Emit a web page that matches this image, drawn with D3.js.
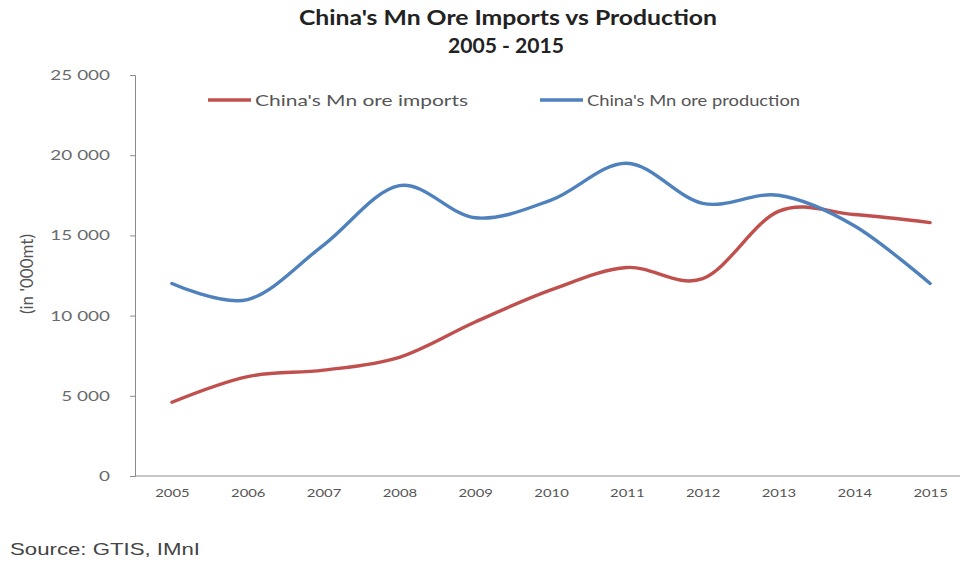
<!DOCTYPE html>
<html>
<head>
<meta charset="utf-8">
<script src="https://cdn.jsdelivr.net/npm/d3@7"></script>
<style>
  html, body { margin: 0; padding: 0; background: #fff; }
  svg { display: block; }
</style>
</head>
<body>
<svg id="chart" width="963" height="564"></svg>
<script>
// Years on the horizontal axis
const years = ["2005", "2006", "2007", "2008", "2009", "2010", "2011", "2012", "2013", "2014", "2015"];
// China's manganese ore imports, '000 mt
const imports = [4600, 6200, 6600, 7400, 9600, 11600, 13000, 12300, 16500, 16300, 15800];
// China's manganese ore production, '000 mt
const production = [12000, 11000, 14400, 18100, 16100, 17200, 19500, 17000, 17500, 15600, 12000];
// Value-axis ticks
const yTicks = [0, 5000, 10000, 15000, 20000, 25000];

const seriesNames = ["China's Mn ore imports", "China's Mn ore production"];
const seriesColors = ["#c0504d", "#4f81bd"];

const svg = d3.select("#chart");
const font = "Lato, 'Open Sans', sans-serif";

// Widen text horizontally by a factor, keeping its height
function widen(sel, k) {
  sel.each(function () {
    const w = this.getComputedTextLength();
    d3.select(this).attr("textLength", w * k).attr("lengthAdjust", "spacingAndGlyphs");
  });
}

const x = d3.scalePoint().domain(years).range([134, 968]).padding(0.5);
const y = d3.scaleLinear().domain([0, 25000]).range([476, 75]);

// Title
const t1 = svg.append("text").attr("x", 508).attr("y", 25).attr("text-anchor", "middle")
  .attr("font-family", font).attr("font-weight", "bold").attr("font-size", 21)
  .attr("fill", "#222").text("China's Mn Ore Imports vs Production");
const t2 = svg.append("text").attr("x", 506).attr("y", 53).attr("text-anchor", "middle")
  .attr("font-family", font).attr("font-weight", "bold").attr("font-size", 21)
  .attr("fill", "#222").text("2005 - 2015");
t1.attr("textLength", 418).attr("lengthAdjust", "spacingAndGlyphs");
t2.attr("textLength", 116).attr("lengthAdjust", "spacingAndGlyphs");

// Y axis
const fmt = v => d3.format(",")(v).replace(/,/g, " ");
const yAxis = svg.append("g").attr("transform", "translate(135,0)")
  .call(d3.axisLeft(y).tickValues(yTicks).tickFormat(fmt).tickSize(5).tickPadding(20));
yAxis.select(".domain").attr("stroke", "#8c8c8c");
yAxis.selectAll(".tick line").attr("stroke", "#8c8c8c");
yAxis.selectAll("text").attr("font-family", font).attr("font-size", 14).attr("fill", "#6a6a6a");
widen(yAxis.selectAll("text"), 1.35);

// X axis
const xAxis = svg.append("g").attr("transform", "translate(0,476)")
  .call(d3.axisBottom(x).tickSize(0).tickPadding(13));
xAxis.select(".domain").attr("d", "M135,0H960").attr("stroke", "#8c8c8c");
xAxis.selectAll("text").attr("font-family", font).attr("font-size", 11).attr("fill", "#555");
widen(xAxis.selectAll("text"), 1.35);

// Y axis title
svg.append("text").attr("transform", "translate(33,274) rotate(-90)")
  .attr("text-anchor", "middle").attr("font-family", font).attr("font-size", 17)
  .attr("fill", "#555").text("(in '000mt)");

// Smoothed series lines
const line = d3.line()
  .x((d, i) => x(years[i]))
  .y(d => y(d))
  .curve(d3.curveCatmullRom.alpha(0));

[imports, production].forEach((vals, k) => {
  svg.append("path").datum(vals)
    .attr("d", line).attr("fill", "none")
    .attr("stroke", seriesColors[k]).attr("stroke-width", 3.4)
    .attr("stroke-linecap", "round").attr("stroke-linejoin", "round");
});

// Legend
const legendX = [208, 540];
seriesNames.forEach((name, k) => {
  const g = svg.append("g").attr("transform", `translate(${legendX[k]},100)`);
  g.append("line").attr("x1", 0).attr("x2", 43).attr("y1", 0).attr("y2", 0)
    .attr("stroke", seriesColors[k]).attr("stroke-width", 3.4);
  g.append("text").attr("x", 47).attr("y", 6).attr("font-family", font)
    .attr("font-size", 16).attr("fill", "#555").text(name)
    .attr("textLength", 213).attr("lengthAdjust", "spacingAndGlyphs");
});

// Source note
svg.append("text").attr("x", 10).attr("y", 555)
  .attr("font-family", "'Liberation Sans', Arial, sans-serif").attr("font-size", 17)
  .attr("fill", "#444").text("Source: GTIS, IMnI")
  .attr("textLength", 190).attr("lengthAdjust", "spacingAndGlyphs");
</script>
</body>
</html>
